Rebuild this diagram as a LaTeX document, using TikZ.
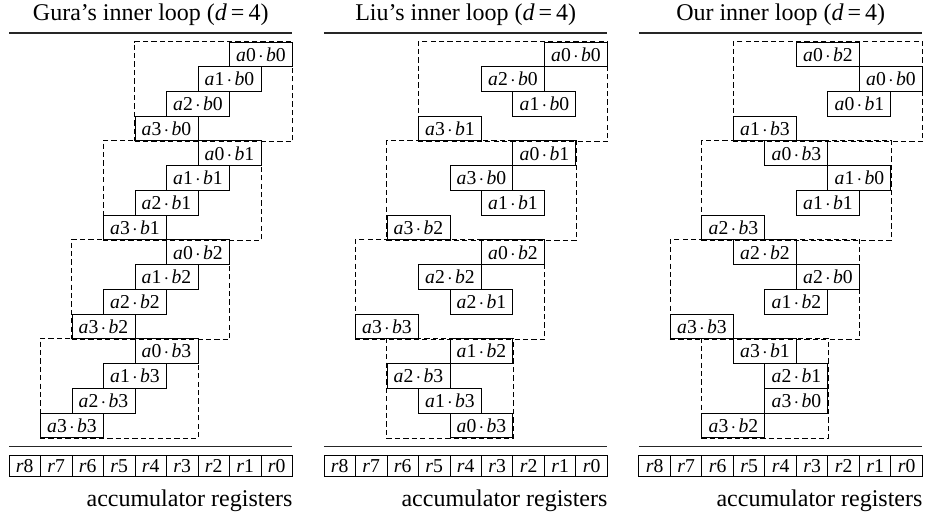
\documentclass[tikz,border=0pt]{standalone}
\usepackage{fontspec}
\setmainfont{Liberation Serif}
\usetikzlibrary{fit,positioning}
\tikzset{
    % one partial product a_i*b_j, two registers wide
    prodbox/.style={
        draw,
        inner sep=0pt,
        minimum width=26.25pt,
        minimum height=10.31pt,
        font=\fontsize{8.2}{9}\selectfont
    },
    % one accumulator register
    regbox/.style={
        draw,
        inner sep=0pt,
        minimum width=13.125pt,
        minimum height=8.75pt,
        font=\fontsize{8.2}{9}\selectfont
    },
    % dashed frame round one group of four products
    groupbox/.style={
        draw,
        dash pattern=on 2.2pt off 1.3pt,
        inner sep=0pt
    },
    rulebar/.style={line width=0.5pt, black!85}
}
\newcommand{\prd}[2]{\textit{a}#1$\mkern2mu\cdot\mkern2mu$\textit{b}#2}

\begin{document}
\begin{tikzpicture}[x=13.125pt, y=-10.31pt]
    \useasboundingbox (-0.286,-1.697) rectangle (29.24,19.27);

    \foreach \p/\ox/\ttl/\seq in {
        g/0/{Gura's}/{0/0,1/0,2/0,3/0, 0/1,1/1,2/1,3/1, 0/2,1/2,2/2,3/2, 0/3,1/3,2/3,3/3},
        l/10/{Liu's}/{0/0,2/0,1/0,3/1, 0/1,3/0,1/1,3/2, 0/2,2/2,2/1,3/3, 1/2,2/3,1/3,0/3},
        o/20/{Our}/{0/2,0/0,0/1,1/3, 0/3,1/0,1/1,2/3, 2/2,2/0,1/2,3/3, 3/1,2/1,3/0,3/2}}
    {
        % title and rules
        \node (\p title) at ({\ox+4.5},-1.09) {\ttl\ inner loop (\textit{d}\,=\,4)};
        \draw[rulebar] (\ox,-0.364) -- ++(9,0);
        \draw[rulebar] (\ox,16.36) -- ++(9,0);

        % partial products, one per row
        \foreach \i/\j [count=\k from 0] in \seq
            \node[prodbox] (\p\k) at ({\ox+8-\i-\j},\k+0.5) {\prd{\i}{\j}};

        % groups of four
        \node[groupbox, fit=(\p0)(\p1)(\p2)(\p3)] (\p grpA) {};
        \node[groupbox, fit=(\p4)(\p5)(\p6)(\p7)] (\p grpB) {};
        \node[groupbox, fit=(\p8)(\p9)(\p10)(\p11)] (\p grpC) {};
        \node[groupbox, fit=(\p12)(\p13)(\p14)(\p15)] (\p grpD) {};

        % accumulator registers r8 ... r0
        \foreach \n in {0,...,8}
            \node[regbox] (\p r\n) at ({\ox+8.5-\n},17.14) {\textit{r}\n};
        \node[anchor=north east, inner sep=0pt] (\p cap) at ([yshift=-5pt]\p r0.south east) {accumulator registers};
    }
\end{tikzpicture}
\end{document}
